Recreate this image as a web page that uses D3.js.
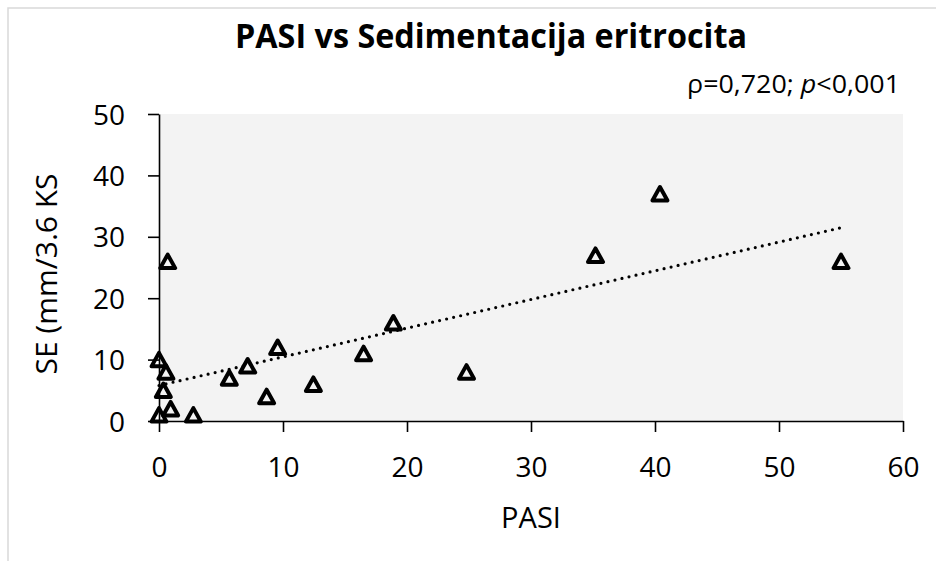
<!DOCTYPE html>
<html>
<head>
<meta charset="utf-8">
<script src="https://cdn.jsdelivr.net/npm/d3@7"></script>
<style>
  body { margin: 0; background: #fff; }
  text { font-family: "Open Sans", sans-serif; fill: #000; }
</style>
</head>
<body>
<div id="chart"></div>
<script>
// values
const pasi = [0, 0.7, 0.56, 0.35, 0.94, 0, 2.77, 5.67, 7.15, 8.68, 9.57, 12.45, 16.5, 18.9, 24.8, 35.2, 40.4, 55];
const se   = [10, 26, 8, 5, 2, 1, 1, 7, 9, 4, 12, 6, 11, 16, 8, 27, 37, 26];
const xTicks = [0, 10, 20, 30, 40, 50, 60];
const yTicks = [0, 10, 20, 30, 40, 50];
const titleText = "PASI vs Sedimentacija eritrocita";
const xTitle = "PASI";
const yTitle = "SE (mm/3.6 KS";

const W = 936, H = 561;
const plot = { left: 159, right: 903, top: 114, bottom: 421 };

const svg = d3.select("#chart").append("svg")
  .attr("width", W)
  .attr("height", H);

// chart border (runs past the right/bottom edge like the original)
svg.append("rect")
  .attr("x", 8).attr("y", 8)
  .attr("width", W + 20).attr("height", H + 20)
  .attr("fill", "none")
  .attr("stroke", "#d9d9d9")
  .attr("stroke-width", 1.5);

const x = d3.scaleLinear().domain([0, 60]).range([plot.left, plot.right]);
const y = d3.scaleLinear().domain([0, 50]).range([plot.bottom, plot.top]);

// plot area background
svg.append("rect")
  .attr("x", x(0)).attr("y", y(50))
  .attr("width", x(60) - x(0))
  .attr("height", y(0) - y(50))
  .attr("fill", "#f3f3f3");

// axes
const xAxis = svg.append("g")
  .attr("transform", `translate(0,${y(0)})`)
  .call(d3.axisBottom(x).tickValues(xTicks).tickSize(11).tickPadding(25).tickSizeOuter(0));

const yAxis = svg.append("g")
  .attr("transform", `translate(${x(0)},0)`)
  .call(d3.axisLeft(y).tickValues(yTicks).tickSize(11).tickPadding(23).tickSizeOuter(0));

[xAxis, yAxis].forEach(g => {
  g.select(".domain").attr("stroke", "#000").attr("stroke-width", 1.6);
  g.selectAll(".tick line").attr("stroke", "#000").attr("stroke-width", 1.6);
  g.selectAll("text")
    .style("font-family", "'Open Sans', sans-serif")
    .style("font-size", "28px")
    .attr("fill", "#000");
});
xAxis.selectAll("text").attr("dy", "0.71em");
yAxis.selectAll("text").attr("dy", "0.36em");

// linear trendline (least squares, like Excel)
const pts = pasi.map((v, i) => [v, se[i]]);
const mx = d3.mean(pasi), my = d3.mean(se);
const slope = d3.sum(pts, p => (p[0] - mx) * (p[1] - my)) / d3.sum(pts, p => (p[0] - mx) ** 2);
const intercept = my - slope * mx;
const xr = d3.extent(pasi);

svg.append("line")
  .attr("x1", x(xr[0])).attr("y1", y(intercept + slope * xr[0]))
  .attr("x2", x(xr[1])).attr("y2", y(intercept + slope * xr[1]))
  .attr("stroke", "#000")
  .attr("stroke-width", 3.2)
  .attr("stroke-linecap", "round")
  .attr("stroke-dasharray", "0 7.2");

// open triangle markers
const tri = (w, h) => `M0,${-h / 2}L${w / 2},${h / 2}L${-w / 2},${h / 2}Z`;
svg.append("g").selectAll("path")
  .data(pts)
  .join("path")
  .attr("transform", d => `translate(${x(d[0])},${y(d[1])})`)
  .attr("d", tri(15, 13.5))
  .attr("fill", "none")
  .attr("stroke", "#000")
  .attr("stroke-width", 4)
  .attr("stroke-linejoin", "round");

// title
svg.append("text")
  .attr("x", 235).attr("y", 48)
  .attr("textLength", 512)
  .attr("lengthAdjust", "spacingAndGlyphs")
  .style("font-size", "34px")
  .style("font-weight", "bold")
  .text(titleText);

// correlation note
const note = svg.append("text")
  .attr("x", 687).attr("y", 93)
  .attr("textLength", 213)
  .attr("lengthAdjust", "spacingAndGlyphs")
  .style("font-size", "25px");
note.append("tspan").text("ρ=0,720; ");
note.append("tspan").style("font-style", "italic").text("p");
note.append("tspan").text("<0,001");

// axis titles
svg.append("text")
  .attr("x", (plot.left + plot.right) / 2).attr("y", 528)
  .attr("text-anchor", "middle")
  .style("font-size", "29px")
  .text(xTitle);

svg.append("text")
  .attr("transform", `translate(57,274) rotate(-90)`)
  .attr("text-anchor", "middle")
  .style("font-size", "30px")
  .text(yTitle);
</script>
</body>
</html>
